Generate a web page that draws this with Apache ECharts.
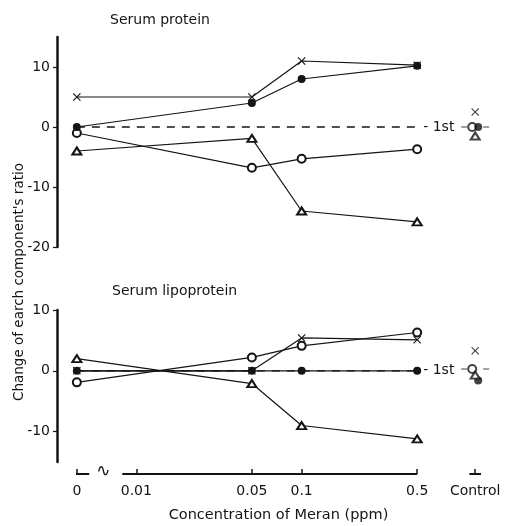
<!DOCTYPE html>
<html>
<head>
<meta charset="utf-8">
<script src="https://cdn.jsdelivr.net/npm/echarts@6/dist/echarts.min.js"></script>
<style>
  html, body { margin: 0; padding: 0; background: #fff; }
  #chart { width: 508px; height: 526px; }
</style>
</head>
<body>
<div id="chart"></div>
<script>
// Meran concentrations (ppm) measured in each panel
const concentrations = [0, 0.05, 0.1, 0.5];
const tickConcentrations = [0, 0.01, 0.05, 0.1, 0.5];
const tickLabels = ['0', '0.01', '0.05', '0.1', '0.5'];
const controlLabel = 'Control';
const yTicksProtein = [-20, -10, 0, 10];
const yTicksLipo = [-10, 0, 10];

// Serum protein: change of each component's ratio
const proteinCross = [5, 5, 11, 10.3];
const proteinFilled = [0, 4, 8, 10.2];
const proteinOpen = [-1, -6.8, -5.3, -3.7];
const proteinTriangle = [-4, -1.9, -14, -15.8];
const proteinControl = [2.5, 0, 0, -1.5];   // cross, open, filled, triangle

// Serum lipoprotein
const lipoCross = [0, 0, 5.4, 5.1];
const lipoFilled = [0, 0, 0, 0];
const lipoOpen = [-1.9, 2.2, 4.1, 6.3];
const lipoTriangle = [2, -2.1, -9, -11.2];
const lipoControl = [3.3, 0.3, -1.6, -0.7]; // cross, open, filled, triangle

// Log-scale positions; "0" and "Control" sit on their own spots off the log range
const ZERO_AT = -2.36;
const CONTROL_AT = 0.05;
const xPos = c => (c === 0 ? ZERO_AT : Math.log10(c));
const X_MIN = -2.48, X_MAX = 0.2;

const INK = '#141414';
const FONT = 'DejaVu Sans';

const CROSS = 'path://M0,1L1,0L5,4L9,0L10,1L6,5L10,9L9,10L5,6L1,10L0,9L4,5Z';
const MARKERS = {
  cross:    { symbol: CROSS, symbolSize: 8, itemStyle: { color: INK } },
  open:     { symbol: 'emptyCircle', symbolSize: 8, itemStyle: { color: INK, borderWidth: 1.2 } },
  filled:   { symbol: 'circle', symbolSize: 8, itemStyle: { color: INK } },
  triangle: { symbol: 'emptyTriangle', symbolSize: [9, 7], itemStyle: { color: INK, borderWidth: 1.2 } }
};
const CONTROL_ORDER = ['cross', 'open', 'filled', 'triangle'];
const CONTROL_SHIFT = { cross: [0, 0], open: [-3, 0], filled: [3, 0], triangle: [0, 0] };

function trace(panel, values, kind) {
  const m = MARKERS[kind];
  return {
    type: 'line', xAxisIndex: panel, yAxisIndex: panel,
    data: concentrations.map((c, i) => [xPos(c), values[i]]),
    symbol: m.symbol, symbolSize: m.symbolSize, showSymbol: true,
    itemStyle: m.itemStyle,
    lineStyle: { color: INK, width: 1.2 },
    z: kind === 'filled' ? 4 : 3
  };
}

function firstLevel(panel) {
  return {
    type: 'line', xAxisIndex: panel, yAxisIndex: panel,
    data: [[xPos(concentrations[0]), 0], [xPos(concentrations[concentrations.length - 1]), 0]],
    symbol: 'none',
    lineStyle: { color: INK, width: 1.3, type: [8, 7] },
    endLabel: { show: true, formatter: '- 1st', color: INK, fontFamily: FONT, fontSize: 14, distance: 6 },
    z: 2
  };
}

function controlMarks(panel, values) {
  const data = CONTROL_ORDER.map((kind, i) => {
    const m = MARKERS[kind];
    return {
      value: [CONTROL_AT, values[i]],
      symbol: m.symbol, symbolSize: m.symbolSize, symbolOffset: CONTROL_SHIFT[kind],
      itemStyle: m.itemStyle
    };
  });
  return [
    {
      type: 'scatter', xAxisIndex: panel, yAxisIndex: panel,
      data: [[CONTROL_AT, values[1]]],
      symbol: 'path://M0,0h6v1h-6zM22,0h6v1h-6z', symbolSize: [28, 1.2],
      itemStyle: { color: INK }, z: 2
    },
    { type: 'scatter', xAxisIndex: panel, yAxisIndex: panel, data: data, z: 4 }
  ];
}

const tickPositions = tickConcentrations.map(xPos).concat([CONTROL_AT]);
const tickNames = tickLabels.concat([controlLabel]);
function nameAt(v) {
  let best = 0;
  tickPositions.forEach((p, i) => { if (Math.abs(p - v) < Math.abs(tickPositions[best] - v)) best = i; });
  return tickNames[best];
}

function yAxis(panel, min, max, ticks) {
  return {
    type: 'value', gridIndex: panel, min: min, max: max,
    axisLine: { show: true, onZero: false, lineStyle: { color: INK, width: 2.5 } },
    axisTick: { show: true, length: 4, customValues: ticks, lineStyle: { color: INK, width: 1.2 } },
    axisLabel: { customValues: ticks, color: INK, fontFamily: FONT, fontSize: 14, margin: 7 },
    splitLine: { show: false }
  };
}

const chart = echarts.init(document.getElementById('chart'), null, { renderer: 'canvas' });

chart.setOption({
  animation: false,
  backgroundColor: '#fff',
  title: [
    { text: 'Serum protein', left: 105, top: 8,
      textStyle: { color: INK, fontFamily: FONT, fontSize: 14, fontWeight: 'normal' } },
    { text: 'Serum lipoprotein', left: 107, top: 279,
      textStyle: { color: INK, fontFamily: FONT, fontSize: 14, fontWeight: 'normal' } }
  ],
  grid: [
    { left: 57, width: 443, top: 37, height: 210 },
    { left: 57, width: 443, top: 310, height: 152 }
  ],
  xAxis: [
    { type: 'value', gridIndex: 0, min: X_MIN, max: X_MAX, show: false },
    {
      type: 'value', gridIndex: 1, min: X_MIN, max: X_MAX, offset: 12, position: 'bottom',
      axisLine: { show: false, onZero: false },
      axisTick: { show: true, inside: true, length: 5, customValues: tickPositions,
                  lineStyle: { color: INK, width: 1.5 } },
      axisLabel: { customValues: tickPositions, formatter: nameAt, color: INK,
                   fontFamily: FONT, fontSize: 14, margin: 10 },
      splitLine: { show: false },
      name: 'Concentration of Meran (ppm)', nameLocation: 'middle', nameGap: 34,
      nameTextStyle: { color: INK, fontFamily: FONT, fontSize: 14.5 }
    }
  ],
  yAxis: [yAxis(0, -20, 15, yTicksProtein), yAxis(1, -15, 10, yTicksLipo)],
  series: [
    firstLevel(0),
    trace(0, proteinCross, 'cross'),
    trace(0, proteinFilled, 'filled'),
    trace(0, proteinOpen, 'open'),
    trace(0, proteinTriangle, 'triangle'),
    ...controlMarks(0, proteinControl),
    firstLevel(1),
    trace(1, lipoCross, 'cross'),
    trace(1, lipoFilled, 'filled'),
    trace(1, lipoOpen, 'open'),
    trace(1, lipoTriangle, 'triangle'),
    ...controlMarks(1, lipoControl)
  ]
});

// Broken x-axis line: a stub under "0", the log range, and a stub under "Control"
const toX = v => chart.convertToPixel({ xAxisIndex: 1 }, v);
const axisY = chart.convertToPixel({ yAxisIndex: 1 }, -15) + 12;
const pieces = [
  [ZERO_AT - 0.005, ZERO_AT + 0.075],
  [-2.085, Math.log10(0.5)],
  [CONTROL_AT - 0.035, CONTROL_AT + 0.035]
];
const graphic = pieces.map(([a, b]) => ({
  type: 'line',
  shape: { x1: toX(a), y1: axisY, x2: toX(b), y2: axisY },
  style: { stroke: INK, lineWidth: 2 }
}));
graphic.push({
  type: 'text', x: toX(-2.2), y: axisY - 2,
  style: { text: '∿', fill: INK, font: '17px "DejaVu Sans"', align: 'center', verticalAlign: 'middle' }
});
graphic.push({
  type: 'text', x: 19, y: 282, rotation: Math.PI / 2,
  style: { text: "Change of earch component's ratio", fill: INK, font: '13.5px "DejaVu Sans"',
           align: 'center', verticalAlign: 'middle' }
});
chart.setOption({ graphic: graphic });
</script>
</body>
</html>
